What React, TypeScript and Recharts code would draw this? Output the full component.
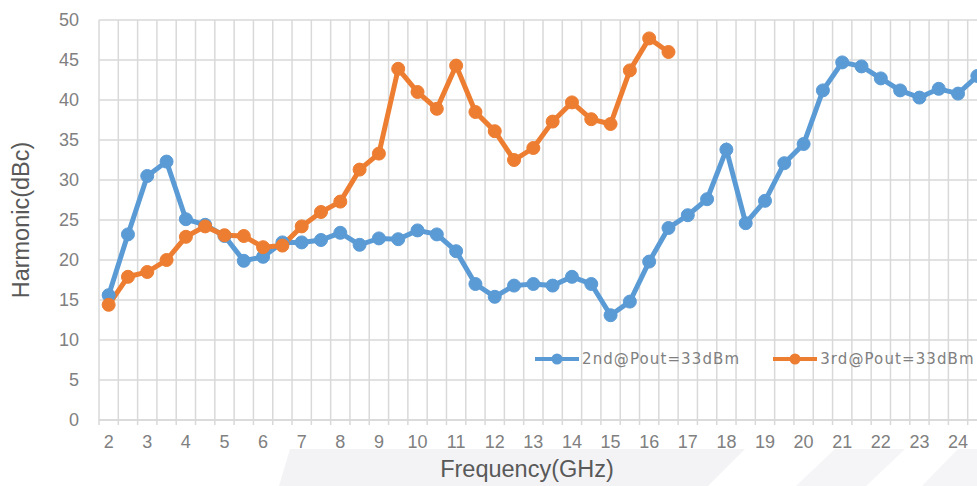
import React from 'react';
import { LineChart, Line, XAxis, YAxis, CartesianGrid, Legend, Label } from 'recharts';

// Frequency categories (GHz)
const freq = [
  2, 2.5, 3, 3.5, 4, 4.5, 5, 5.5, 6, 6.5, 7, 7.5, 8, 8.5, 9, 9.5, 10, 10.5, 11, 11.5,
  12, 12.5, 13, 13.5, 14, 14.5, 15, 15.5, 16, 16.5, 17, 17.5, 18, 18.5, 19, 19.5, 20, 20.5,
  21, 21.5, 22, 22.5, 23, 23.5, 24, 24.5,
];

// 2nd harmonic @ Pout=33dBm (dBc)
const second = [
  15.6, 23.2, 30.5, 32.3, 25.1, 24.4, 23.0, 19.9, 20.4, 22.2, 22.2, 22.5, 23.4, 21.9, 22.7, 22.6,
  23.7, 23.2, 21.1, 17.0, 15.4, 16.8, 17.0, 16.8, 17.9, 17.0, 13.1, 14.8, 19.8, 24.0, 25.6, 27.6,
  33.8, 24.6, 27.4, 32.1, 34.5, 41.2, 44.7, 44.2, 42.7, 41.2, 40.3, 41.4, 40.8, 43.0,
];

// 3rd harmonic @ Pout=33dBm (dBc), measured 2 – 16.5 GHz
const third = [
  14.4, 17.9, 18.5, 20.0, 22.9, 24.2, 23.1, 23.0, 21.6, 21.8, 24.2, 26.0, 27.3, 31.3, 33.3, 43.9,
  41.0, 38.9, 44.3, 38.5, 36.1, 32.5, 34.0, 37.3, 39.7, 37.6, 37.0, 43.7, 47.7, 46.0,
];

const xTickLabels = [2, 3, 4, 5, 6, 7, 8, 9, 10, 11, 12, 13, 14, 15, 16, 17, 18, 19, 20, 21, 22, 23, 24];
const yTickLabels = [0, 5, 10, 15, 20, 25, 30, 35, 40, 45, 50];

const seriesNames = ['2nd@Pout=33dBm', '3rd@Pout=33dBm'];
const seriesColors = ['#5B9BD5', '#ED7D31'];

const halfStep = 0.25;
const gridTicks = [...freq.map((f) => f - halfStep), freq[freq.length - 1] + halfStep];
const xDomain = [gridTicks[0], gridTicks[gridTicks.length - 1]];

const data = freq.map((f, i) => ({
  f,
  second: second[i],
  third: i < third.length ? third[i] : null,
}));

const tickStyle = { fontFamily: 'Liberation Sans, Arial, sans-serif', fontSize: 18, fill: '#808080' };
const labelStyle = { fontFamily: 'Liberation Sans, Arial, sans-serif', fontSize: 23.5, fill: '#595959' };
const gridColor = '#d9d9d9';

const renderLegend = () => (
  <div style={{ display: 'flex', alignItems: 'center', height: 20 }}>
    {seriesNames.map((name, i) => (
      <div key={name} style={{ display: 'flex', alignItems: 'center', marginRight: 33 }}>
        <svg width={44} height={14} style={{ display: 'block', marginRight: 3 }}>
          <line x1={0} y1={7} x2={44} y2={7} stroke={seriesColors[i]} strokeWidth={4} />
          <circle cx={22} cy={7} r={5.5} fill={seriesColors[i]} />
        </svg>
        <span
          style={{
            fontFamily: 'DejaVu Sans, sans-serif',
            fontSize: 15,
            letterSpacing: 1.1,
            color: '#808080',
            whiteSpace: 'nowrap',
          }}
        >
          {name}
        </span>
      </div>
    ))}
  </div>
);

export default function App() {
  return (
    <div
      style={{
        position: 'absolute',
        left: 0,
        top: 0,
        width: 977,
        height: 486,
        overflow: 'hidden',
        background: '#ffffff',
      }}
    >
      <svg width={977} height={486} style={{ position: 'absolute', left: 0, top: 0 }}>
        <polygon points="290,449 745,449 708,486 279,486" fill="#f3f3f6" />
        <polygon points="835,449 905,449 866,486 796,486" fill="#f5f5f8" />
        <polygon points="958,449 977,449 977,486 922,486" fill="#f5f5f8" />
      </svg>
      <div style={{ position: 'absolute', left: 0, top: 0 }}>
        <LineChart width={987} height={486} data={data} margin={{ top: 20, right: 0, bottom: 0, left: 0 }}>
          <CartesianGrid
            xAxisId="grid"
            yAxisId="val"
            stroke={gridColor}
            strokeWidth={1.5}
          />
          <XAxis
            xAxisId="grid"
            dataKey="f"
            type="number"
            domain={xDomain}
            ticks={gridTicks}
            allowDataOverflow
            interval={0}
            tickSize={5}
            tickFormatter={() => ''}
            tickLine={{ stroke: gridColor, strokeWidth: 1.5 }}
            axisLine={{ stroke: gridColor, strokeWidth: 1.5 }}
            height={1}
          />
          <XAxis
            xAxisId="main"
            dataKey="f"
            type="number"
            domain={xDomain}
            ticks={xTickLabels}
            allowDataOverflow
            interval={0}
            tickLine={false}
            axisLine={false}
            tickMargin={8}
            tick={tickStyle}
            height={65}
          >
            <Label value="Frequency(GHz)" position="insideBottom" offset={9} dx={-16} style={labelStyle} />
          </XAxis>
          <YAxis
            yAxisId="val"
            type="number"
            domain={[0, 50]}
            ticks={yTickLabels}
            interval={0}
            width={99}
            tickLine={false}
            axisLine={false}
            tickSize={6}
            tickMargin={14}
            tick={tickStyle}
          >
            <Label value="Harmonic(dBc)" position="center" angle={-90} dx={-28.5} style={labelStyle} />
          </YAxis>
          <Legend
            verticalAlign="middle"
            layout="horizontal"
            content={renderLegend}
            wrapperStyle={{ position: 'absolute', left: 535, top: 349, width: 460 }}
          />
          {/* invisible series bound to the boundary axis so that its scale is resolved */}
          <Line
            xAxisId="grid"
            yAxisId="val"
            dataKey="second"
            stroke="none"
            dot={false}
            activeDot={false}
            legendType="none"
            isAnimationActive={false}
          />
          <Line
            xAxisId="main"
            yAxisId="val"
            dataKey="second"
            name={seriesNames[0]}
            stroke={seriesColors[0]}
            strokeWidth={5}
            dot={{ r: 6.5, fill: seriesColors[0], stroke: seriesColors[0], strokeWidth: 1 }}
            activeDot={false}
            isAnimationActive={false}
          />
          <Line
            xAxisId="main"
            yAxisId="val"
            dataKey="third"
            name={seriesNames[1]}
            stroke={seriesColors[1]}
            strokeWidth={5}
            dot={{ r: 6.5, fill: seriesColors[1], stroke: seriesColors[1], strokeWidth: 1 }}
            activeDot={false}
            isAnimationActive={false}
          />
        </LineChart>
      </div>
    </div>
  );
}
